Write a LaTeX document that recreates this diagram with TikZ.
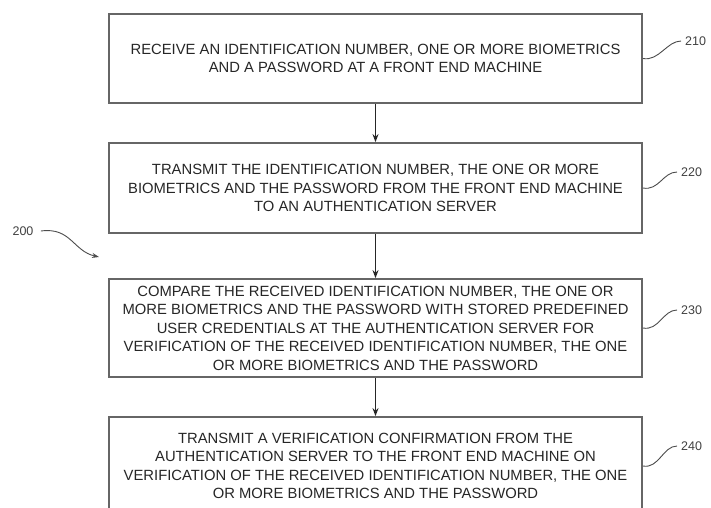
\documentclass[tikz,border=0pt]{standalone}
\usepackage{fontspec}
\setmainfont{Liberation Sans}
\usetikzlibrary{arrows.meta}

\begin{document}
\begin{tikzpicture}[x=1pt, y=-1pt, >={Stealth[length=8pt,width=6pt]}]
\tikzset{
  stepbox/.style={draw=black!60, line width=1.8pt, minimum width=533pt, inner sep=0pt,
    align=center, text=black!85, font=\fontsize{14.8}{18.5}\selectfont},
  refnum/.style={anchor=west, inner sep=1pt, text=black!75, font=\fontsize{12.5}{14}\selectfont},
  lead/.style={draw=black!70, line width=0.9pt}
}
\useasboundingbox (0,0) rectangle (711,507);
\clip (0,0) rectangle (711,507);
% flow steps
\node[stepbox, minimum height=89pt] (s210) at (375.5,58.5)
  {RECEIVE AN IDENTIFICATION NUMBER, ONE OR MORE BIOMETRICS\\
   AND A PASSWORD AT A FRONT END MACHINE};
\node[stepbox, minimum height=90pt] (s220) at (375.5,188)
  {TRANSMIT THE IDENTIFICATION NUMBER, THE ONE OR MORE\\
   BIOMETRICS AND THE PASSWORD FROM THE FRONT END MACHINE\\
   TO AN AUTHENTICATION SERVER};
\node[stepbox, minimum height=98pt] (s230) at (375.5,328)
  {COMPARE THE RECEIVED IDENTIFICATION NUMBER, THE ONE OR\\
   MORE BIOMETRICS AND THE PASSWORD WITH STORED PREDEFINED\\
   USER CREDENTIALS AT THE AUTHENTICATION SERVER FOR\\
   VERIFICATION OF THE RECEIVED IDENTIFICATION NUMBER, THE ONE\\
   OR MORE BIOMETRICS AND THE PASSWORD};
\node[stepbox, minimum height=98pt] (s240) at (375.5,466)
  {TRANSMIT A VERIFICATION CONFIRMATION FROM THE\\
   AUTHENTICATION SERVER TO THE FRONT END MACHINE ON\\
   VERIFICATION OF THE RECEIVED IDENTIFICATION NUMBER, THE ONE\\
   OR MORE BIOMETRICS AND THE PASSWORD};
% arrows between steps
\draw[->, line width=1.6pt, black!85] (s210) -- (s220);
\draw[->, line width=1.6pt, black!85] (s220) -- (s230);
\draw[->, line width=1.6pt, black!85] (s230) -- (s240);
% reference numerals
\node[refnum] (n210) at (684,41) {210};
\node[refnum] (n220) at (680,172) {220};
\node[refnum] (n230) at (680,310) {230};
\node[refnum] (n240) at (680,446) {240};
\draw[lead] (s210.east) .. controls +(16,3) and +(-14,0) .. ([xshift=-3pt]n210.west);
\draw[lead] (s220.east) .. controls +(16,3) and +(-14,0) .. ([xshift=-3pt]n220.west);
\draw[lead] (s230.east) .. controls +(16,3) and +(-14,0) .. ([xshift=-3pt]n230.west);
\draw[lead] (s240.east) .. controls +(16,3) and +(-14,0) .. ([xshift=-3pt]n240.west);
% figure number
\node[text=black!75, font=\fontsize{12.5}{14}\selectfont] (n200) at (23,231) {200};
\coordinate (tip200) at (99,257);
\draw[lead, -{Stealth[length=7pt,width=5pt]}] ([xshift=4pt]n200.east) .. controls +(30,-4) and +(-26,-6) .. (tip200);
\end{tikzpicture}
\end{document}
